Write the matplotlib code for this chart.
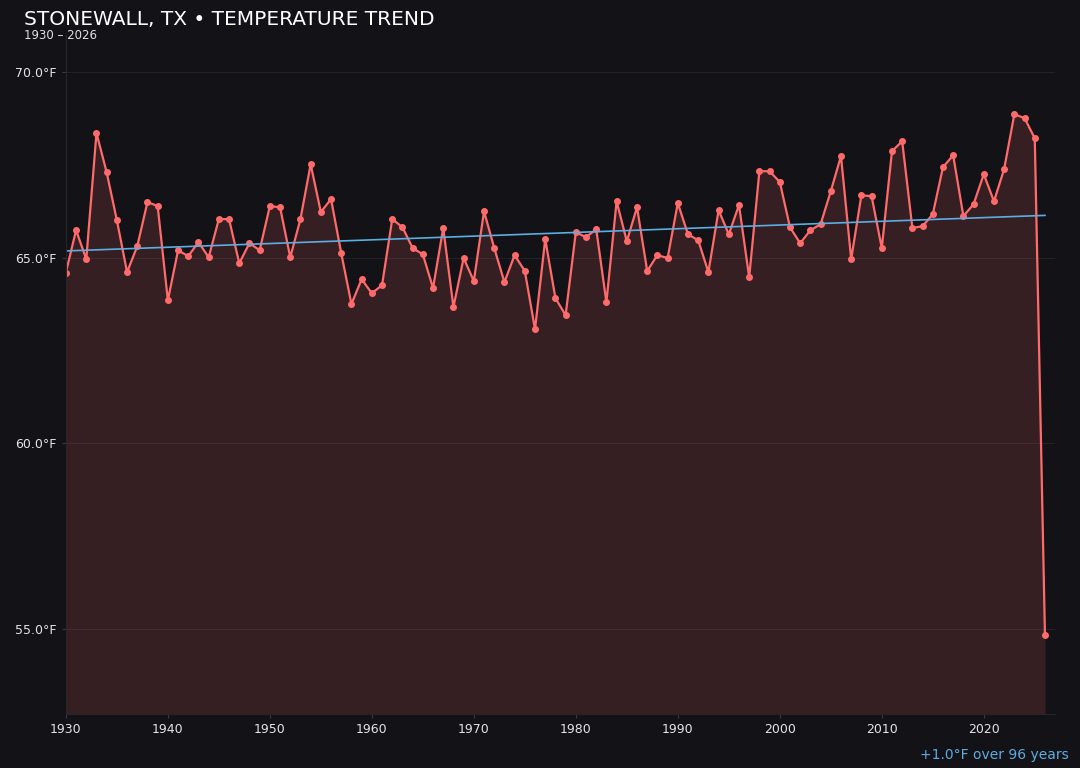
import numpy as np
import matplotlib.pyplot as plt

years = list(range(1930, 2027))
temps = [
    64.60, 65.74, 64.96, 68.36, 67.30, 66.01, 64.61, 65.31, 66.50, 66.39,
    63.85, 65.20, 65.04, 65.42, 65.01, 66.04, 66.04, 64.85, 65.39, 65.20,
    66.39, 66.36, 65.01, 66.04, 67.52, 66.23, 66.58, 65.12, 63.75, 64.42,
    64.04, 64.26, 66.04, 65.82, 65.26, 65.09, 64.18, 65.80, 63.67, 64.99,
    64.37, 66.25, 65.26, 64.34, 65.07, 64.64, 63.07, 65.50, 63.91, 63.45,
    65.69, 65.55, 65.77, 63.80, 66.52, 65.44, 66.36, 64.64, 65.07, 64.99,
    66.47, 65.63, 65.47, 64.61, 66.28, 65.63, 66.42, 64.47, 67.33, 67.33,
    67.04, 65.82, 65.39, 65.74, 65.90, 66.79, 67.74, 64.96, 66.68, 66.66,
    65.26, 67.87, 68.14, 65.80, 65.85, 66.17, 67.44, 67.76, 66.12, 66.44,
    67.25, 66.52, 67.39, 68.87, 68.76, 68.22, 54.82,
]
y_ticks = [55, 60, 65, 70]
x_ticks = list(range(1930, 2021, 10))

bg = "#131217"
red = "#ff6b6b"
blue = "#5dade2"

x = np.array(years)
y = np.array(temps)
slope, icpt = np.polyfit(x, y, 1)
trend = slope * x + icpt

fig = plt.figure(figsize=(10.8, 7.68), dpi=100, facecolor=bg)
ax = fig.add_axes([0.061, 0.0703, 0.916, 0.884])
ax.set_facecolor(bg)

ybot = 52.7
ax.fill_between(x, y, ybot, color=red, alpha=0.15, linewidth=0)
ax.plot(x, y, color=red, lw=1.6, marker="o", ms=4)
ax.plot(x, trend, color=blue, lw=1.2)

ax.set_xlim(1930, 2027)
ax.set_ylim(ybot, 71.0)
ax.set_xticks(x_ticks)
ax.set_yticks(y_ticks)
ax.set_yticklabels([f"{t:.1f}°F" for t in y_ticks])
ax.grid(axis="y", color="#222128", lw=0.8)
ax.set_axisbelow(True)
ax.tick_params(colors="#3a3940", labelcolor="#e4e4e8", labelsize=9, length=3)
for side in ["top", "right"]:
    ax.spines[side].set_visible(False)
for side in ["left", "bottom"]:
    ax.spines[side].set_color("#26252c")

fig.text(0.022, 0.974, "STONEWALL, TX • TEMPERATURE TREND", color="white",
         fontsize=14.5, va="center", ha="left")
fig.text(0.022, 0.954, "1930 – 2026", color="#e0e0e4", fontsize=8.5,
         va="center", ha="left")
fig.text(0.99, 0.017, f"+{slope * 96:.1f}°F over 96 years", color=blue,
         fontsize=10, ha="right", va="center")

fig.savefig("out.png", dpi=100, facecolor=bg)
